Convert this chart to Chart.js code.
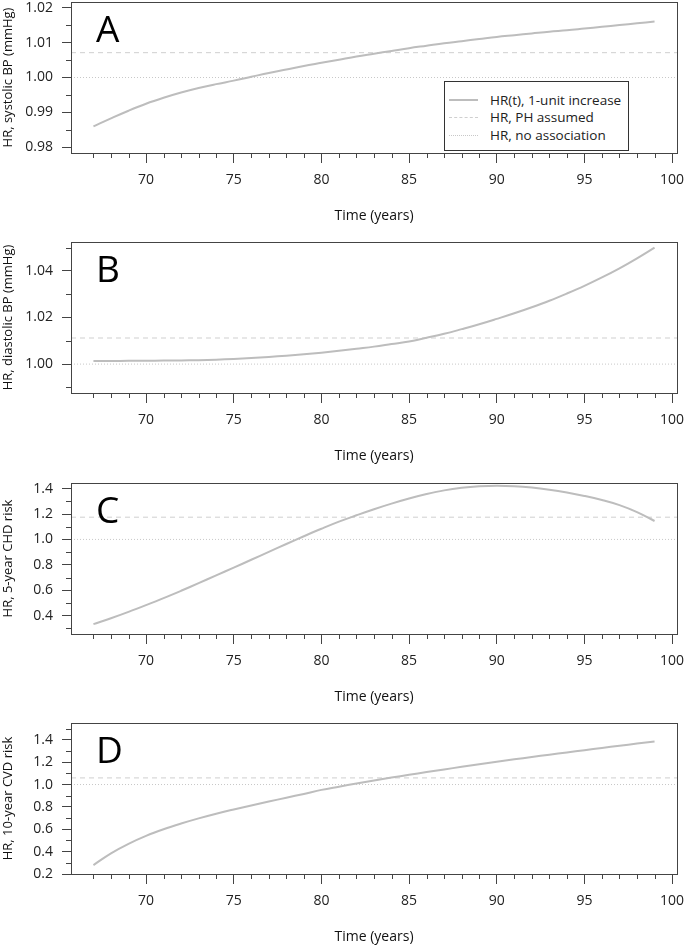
<!DOCTYPE html>
<html>
<head>
<meta charset="utf-8">
<script src="https://cdn.jsdelivr.net/npm/chart.js@4.4.0/dist/chart.umd.min.js"></script>
<style>
  body { margin: 0; width: 685px; height: 945px; overflow: hidden; background: #fff; position: relative; font-family: "Open Sans", sans-serif; }
  .panel { position: absolute; left: 0; width: 685px; height: 240px; }
  .letter { position: absolute; left: 96px; font-size: 37px; line-height: 36px; color: #000; font-family: "Open Sans", sans-serif; }
  .legend { position: absolute; left: 444px; top: 81px; width: 183px; height: 68px; border: 1px solid #333; background: #fff; font-size: 13.5px; color: #222; }
  .legend .row { position: absolute; left: 0; height: 16px; line-height: 16px; }
  .legend .sample { position: absolute; left: 4px; top: 8px; width: 29px; height: 0; }
  .legend .txt { position: absolute; left: 45px; top: 0; white-space: nowrap; }
</style>
</head>
<body>
<div id="panels"></div>
<div class="legend">
  <div class="row" style="top:10px"><div class="sample" style="border-top:2px solid #bdbdbd;top:7px"></div><span class="txt">HR(t), 1-unit increase</span></div>
  <div class="row" style="top:27px"><div class="sample" style="border-top:1px dashed #cfcfcf"></div><span class="txt">HR, PH assumed</span></div>
  <div class="row" style="top:45px"><div class="sample" style="border-top:1px dotted #c8c8c8"></div><span class="txt">HR, no association</span></div>
</div>
<script>
// time points (years)
const years = [67, 68, 69, 70, 71, 72, 73, 74, 75, 76, 77, 78, 79, 80, 81, 82, 83,
               84, 85, 86, 87, 88, 89, 90, 91, 92, 93, 94, 95, 96, 97, 98, 99];

// HR(t) per 1-unit increase
const hrA = [0.9860, 0.9883, 0.9905, 0.9925, 0.9942, 0.9957, 0.9970, 0.9981, 0.9991, 1.0002, 1.0013,
             1.0023, 1.0033, 1.0042, 1.0051, 1.0060, 1.0068, 1.0076, 1.0084, 1.0091, 1.0098, 1.0104,
             1.0110, 1.0116, 1.0121, 1.0126, 1.0131, 1.0135, 1.0140, 1.0145, 1.0150, 1.0155, 1.0160];
const hrB = [1.0013, 1.0013, 1.0014, 1.0014, 1.0015, 1.0016, 1.0017, 1.0019, 1.0022, 1.0026, 1.0031,
             1.0036, 1.0042, 1.0049, 1.0057, 1.0066, 1.0075, 1.0086, 1.0097, 1.0113, 1.0130, 1.0150,
             1.0171, 1.0194, 1.0218, 1.0244, 1.0272, 1.0303, 1.0336, 1.0372, 1.0411, 1.0454, 1.0500];
const hrC = [0.334, 0.380, 0.430, 0.483, 0.538, 0.596, 0.656, 0.717, 0.778, 0.840, 0.902,
             0.964, 1.025, 1.084, 1.140, 1.190, 1.238, 1.282, 1.322, 1.357, 1.386, 1.406,
             1.418, 1.423, 1.419, 1.408, 1.391, 1.369, 1.342, 1.310, 1.270, 1.215, 1.145];
const hrD = [0.280, 0.385, 0.470, 0.541, 0.600, 0.651, 0.697, 0.739, 0.777, 0.813, 0.848,
             0.882, 0.916, 0.952, 0.981, 1.009, 1.036, 1.062, 1.087, 1.111, 1.135, 1.158,
             1.181, 1.203, 1.225, 1.246, 1.267, 1.287, 1.307, 1.327, 1.347, 1.366, 1.385];

// HR under proportional hazards
const phA = 1.0071, phB = 1.0112, phC = 1.175, phD = 1.059;
const noAssoc = 1.0;

// x axis
const xMin = 65.72, xMax = 100.28;
const xMajor = [70, 75, 80, 85, 90, 95, 100];
const xMinor = [67, 68, 69, 71, 72, 73, 74, 76, 77, 78, 79, 81, 82, 83, 84,
                86, 87, 88, 89, 91, 92, 93, 94, 96, 97, 98, 99];

// y axes
const yMajorA = [0.98, 0.99, 1.00, 1.01, 1.02];
const yLabelsA = ["0.98", "0.99", "1.00", "1.01", "1.02"];
const yMinorA = [0.985, 0.995, 1.005, 1.015];
const yMajorB = [1.00, 1.02, 1.04];
const yLabelsB = ["1.00", "1.02", "1.04"];
const yMinorB = [0.99, 1.01, 1.03, 1.05];
const yMajorC = [0.4, 0.6, 0.8, 1.0, 1.2, 1.4];
const yLabelsC = ["0.4", "0.6", "0.8", "1.0", "1.2", "1.4"];
const yMinorC = [0.3, 0.5, 0.7, 0.9, 1.1, 1.3];
const yMajorD = [0.2, 0.4, 0.6, 0.8, 1.0, 1.2, 1.4];
const yLabelsD = ["0.2", "0.4", "0.6", "0.8", "1.0", "1.2", "1.4"];
const yMinorD = [0.3, 0.5, 0.7, 0.9, 1.1, 1.3, 1.5];

const letters = ["A", "B", "C", "D"];
const yTitles = ["HR, systolic BP (mmHg)", "HR, diastolic BP (mmHg)", "HR, 5-year CHD risk", "HR, 10-year CVD risk"];
const xTitle = "Time (years)";

const panels = [
  { hr: hrA, ph: phA, yMin: 0.9784, yMax: 1.0216, major: yMajorA, labels: yLabelsA, minor: yMinorA },
  { hr: hrB, ph: phB, yMin: 0.9876, yMax: 1.0524, major: yMajorB, labels: yLabelsB, minor: yMinorB },
  { hr: hrC, ph: phC, yMin: 0.256, yMax: 1.444, major: yMajorC, labels: yLabelsC, minor: yMinorC },
  { hr: hrD, ph: phD, yMin: 0.2, yMax: 1.55, major: yMajorD, labels: yLabelsD, minor: yMinorD }
];
const panelTop = [0, 240, 481, 721];

const font = { family: "'Open Sans', sans-serif", size: 14 };
const axisCol = "#444";

// box around plot + minor ticks
const frame = {
  id: "frame",
  afterDraw(chart, args, opts) {
    const { ctx, chartArea: a, scales } = chart;
    ctx.save();
    ctx.strokeStyle = axisCol;
    ctx.lineWidth = 1;
    ctx.strokeRect(Math.round(a.left) + 0.5, Math.round(a.top) + 0.5,
                   Math.round(a.right - a.left), Math.round(a.bottom - a.top));
    ctx.beginPath();
    opts.xMinor.forEach(v => {
      const px = Math.round(scales.x.getPixelForValue(v)) + 0.5;
      ctx.moveTo(px, a.bottom);
      ctx.lineTo(px, a.bottom + 5);
    });
    opts.yMinor.forEach(v => {
      const py = Math.round(scales.y.getPixelForValue(v)) + 0.5;
      ctx.moveTo(a.left, py);
      ctx.lineTo(a.left - 5, py);
    });
    ctx.stroke();
    ctx.restore();
  }
};

const holder = document.getElementById("panels");
panels.forEach((p, i) => {
  const div = document.createElement("div");
  div.className = "panel";
  div.style.top = panelTop[i] + "px";
  const cv = document.createElement("canvas");
  cv.width = 685; cv.height = 240;
  div.appendChild(cv);
  const lt = document.createElement("div");
  lt.className = "letter";
  lt.style.top = "10px";
  lt.textContent = letters[i];
  div.appendChild(lt);
  holder.appendChild(div);

  new Chart(cv, {
    type: "line",
    data: {
      datasets: [
        {
          label: "HR(t), 1-unit increase",
          data: years.map((x, k) => ({ x: x, y: p.hr[k] })),
          borderColor: "#bdbdbd",
          borderWidth: 2,
          pointRadius: 0,
          tension: 0.4
        },
        {
          label: "HR, PH assumed",
          data: [{ x: xMin, y: p.ph }, { x: xMax, y: p.ph }],
          borderColor: "#cfcfcf",
          borderWidth: 1,
          borderDash: [5, 4],
          pointRadius: 0
        },
        {
          label: "HR, no association",
          data: [{ x: xMin, y: noAssoc }, { x: xMax, y: noAssoc }],
          borderColor: "#c8c8c8",
          borderWidth: 1,
          borderDash: [1, 2],
          pointRadius: 0
        }
      ]
    },
    options: {
      responsive: false,
      animation: false,
      layout: { padding: { left: 0, right: 8, top: 2, bottom: 0 } },
      plugins: {
        legend: { display: false },
        tooltip: { enabled: false },
        frame: { xMinor: xMinor, yMinor: p.minor }
      },
      scales: {
        x: {
          type: "linear",
          min: xMin,
          max: xMax,
          afterBuildTicks: s => { s.ticks = xMajor.map(v => ({ value: v })); },
          afterFit: s => { s.height = 87; s.paddingLeft = 0; s.paddingRight = 0; },
          grid: { drawOnChartArea: false, drawTicks: true, tickLength: 10, tickColor: axisCol },
          border: { display: false },
          ticks: { autoSkip: false, maxRotation: 0, padding: 9, color: "#222", font: font },
          title: { display: true, text: xTitle, color: "#111", font: font, padding: { top: 0, bottom: 16 } }
        },
        y: {
          type: "linear",
          min: p.yMin,
          max: p.yMax,
          afterBuildTicks: s => { s.ticks = p.major.map(v => ({ value: v })); },
          afterFit: s => { s.width = 71; s.paddingTop = 0; s.paddingBottom = 0; },
          grid: { drawOnChartArea: false, drawTicks: true, tickLength: 9, tickColor: axisCol },
          border: { display: false },
          ticks: { autoSkip: false, padding: 9, color: "#222", font: font,
                   callback: (v, k) => p.labels[k] },
          title: { display: true, text: yTitles[i], color: "#111", font: { family: font.family, size: 13 }, padding: { top: 0, bottom: 0 } }
        }
      }
    },
    plugins: [frame]
  });
});
</script>
</body>
</html>
